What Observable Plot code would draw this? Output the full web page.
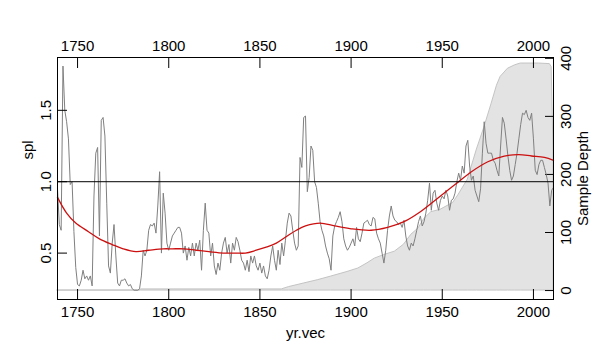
<!DOCTYPE html>
<html><head><meta charset="utf-8">
<script src="https://cdn.jsdelivr.net/npm/d3@7"></script>
<script src="https://cdn.jsdelivr.net/npm/@observablehq/plot@0.6"></script>
<style>
body{margin:0;background:#fff;}
#wrap{position:relative;width:612px;height:358px;overflow:hidden;}
#wrap svg{position:absolute;left:0;top:0;}
</style></head><body><div id="wrap"></div>
<script>
// ---- data ----
const firstYear = 1739;
const lastYear = 2011;
const splValues = [
  0.95, 0.70, 0.66, 1.81, 1.50, 1.42, 1.30, 0.98, 1.00, 0.65, 0.40,
  0.28, 0.27, 0.31, 0.38, 0.32, 0.34, 0.31, 0.34, 0.27, 0.90,
  1.20, 1.24, 0.62, 1.43, 1.45, 1.32, 0.85, 0.41, 0.36, 0.57,
  0.70, 0.48, 0.29, 0.27, 0.31, 0.31, 0.32, 0.29, 0.27, 0.28,
  0.25, 0.24, 0.24, 0.24, 0.25, 0.34, 0.52, 0.48, 0.52, 0.66,
  0.70, 0.69, 0.71, 0.64, 0.83, 1.07, 0.50, 0.92, 0.78, 0.57,
  0.52, 0.57, 0.62, 0.64, 0.66, 0.68, 0.68, 0.64, 0.50, 0.55,
  0.45, 0.54, 0.48, 0.57, 0.48, 0.57, 0.52, 0.59, 0.38, 0.66,
  0.85, 0.66, 0.64, 0.48, 0.57, 0.41, 0.35, 0.43, 0.38, 0.50,
  0.57, 0.61, 0.50, 0.56, 0.43, 0.57, 0.52, 0.61, 0.58, 0.52,
  0.45, 0.43, 0.38, 0.45, 0.37, 0.48, 0.43, 0.48, 0.41, 0.38,
  0.43, 0.36, 0.41, 0.34, 0.32, 0.38, 0.48, 0.55, 0.45, 0.38,
  0.52, 0.42, 0.57, 0.48, 0.59, 0.71, 0.78, 0.76, 0.66, 0.57,
  0.52, 0.55, 1.17, 1.10, 1.45, 1.46, 0.93, 1.03, 1.25, 1.22,
  1.00, 0.96, 0.85, 0.72, 0.66, 0.62, 0.55, 0.50, 0.46, 0.38,
  0.62, 0.69, 0.72, 0.75, 0.79, 0.72, 0.60, 0.55, 0.52, 0.54,
  0.57, 0.60, 0.55, 0.68, 0.60, 0.58, 0.64, 0.71, 0.72, 0.73,
  0.70, 0.69, 0.75, 0.74, 0.64, 0.60, 0.57, 0.50, 0.43, 0.52,
  0.66, 0.76, 0.83, 0.76, 0.73, 0.72, 0.70, 0.71, 0.68, 0.73,
  0.62, 0.55, 0.52, 0.57, 0.55, 0.60, 0.66, 0.72, 0.76, 0.69,
  0.72, 0.78, 0.87, 0.99, 0.80, 0.92, 0.94, 0.85, 0.80, 0.87,
  0.90, 0.88, 0.94, 0.90, 0.80, 0.87, 0.88, 0.92, 1.00, 1.06,
  1.01, 1.11, 1.06, 1.25, 1.29, 1.11, 1.01, 1.04, 0.94, 0.90,
  0.86, 0.95, 1.20, 1.42, 1.27, 1.20, 1.20, 1.20, 1.15, 1.13,
  1.08, 1.04, 1.25, 1.45, 1.41, 1.30, 1.18, 1.08, 1.01, 1.04,
  1.12, 1.20, 1.30, 1.40, 1.48, 1.47, 1.50, 1.45, 1.43, 1.48,
  1.30, 1.08, 1.05, 1.12, 1.15, 1.15, 1.10, 1.05, 0.99, 0.83,
  0.94, 0.96
];
const splineYears  = [1739,1744,1749,1756,1762,1769,1775,1782,1789,1797,1802,1808,1815,1822,1830,1837,1842,1848,1853,1859,1865,1870,1875,1883,1891,1900,1911,1920,1929,1938,1948,1957,1966,1975,1984,1992,1999,2006,2011];
const splineValues = [0.89,0.78,0.71,0.65,0.60,0.56,0.53,0.51,0.52,0.53,0.53,0.53,0.52,0.51,0.50,0.50,0.50,0.52,0.54,0.57,0.62,0.66,0.69,0.71,0.69,0.67,0.66,0.68,0.72,0.79,0.89,0.98,1.07,1.14,1.18,1.19,1.18,1.17,1.15];
const depthYears  = [1739,1784,1785,1862,1866,1874,1882,1889,1898,1904,1909,1913,1918,1924,1929,1933,1937,1940,1944,1949,1956,1959,1964,1969,1973,1977,1980,1982,1986,1990,1993,2003,2009,2010,2011];
const depthValues = [0,0,2,2,6,12,18,24,32,38,47,55,61,67,79,96,107,123,135,139,151,165,191,243,280,321,353,368,382,388,391,391,390,385,240];
const xTicks = [1750, 1800, 1850, 1900, 1950, 2000];
const splTicks = [0.5, 1.0, 1.5];
const depthTicks = [0, 100, 200, 300, 400];
const refLine = [1.0];
const splTitle = ["spl"];

// ---- tables ----
const splData = splValues.map((v, i) => ({year: firstYear + i, spl: v}));
const splineData = splineYears.map((y, i) => ({year: y, spl: splineValues[i]}));
const depthData = depthYears.map((y, i) => ({year: y, depth: depthValues[i]}));

const W = 612, H = 358;
const M = {marginLeft: 57, marginRight: 59, marginTop: 57, marginBottom: 59};
const FONT = "'Liberation Sans', Arial, sans-serif";
const style = {fontFamily: FONT, fontSize: "15px", background: "transparent", color: "#000", overflow: "visible"};

const depthPlot = Plot.plot({
  width: W, height: H, ...M, style,
  x: {domain: [firstYear, lastYear], axis: null},
  y: {domain: [-15.4, 401.4]},
  marks: [
    Plot.areaY(depthData, {x: "year", y: "depth", fill: "#e3e3e3", stroke: "#c4c4c4", strokeWidth: 1}),
    Plot.axisY(depthTicks, {anchor: "right", tickSize: -9, tickPadding: 26, tickRotate: -90,
      label: "Sample Depth", labelAnchor: "center", labelOffset: 34, labelArrow: "none"})
  ]
});

const splPlot = Plot.plot({
  width: W, height: H, ...M, style,
  x: {domain: [firstYear, lastYear]},
  y: {domain: [0.175, 1.87]},
  marks: [
    Plot.lineY(splData, {x: "year", y: "spl", stroke: "#808080", strokeWidth: 1}),
    Plot.line(splineData, {x: "year", y: "spl", stroke: "#cc1010", strokeWidth: 1.3, curve: "catmull-rom"}),
    Plot.ruleY(refLine, {stroke: "#000", strokeWidth: 1}),
    Plot.frame({stroke: "#000", strokeWidth: 1}),
    Plot.axisX(xTicks, {anchor: "bottom", tickSize: -10, tickPadding: 17, tickFormat: d => String(d),
      label: "yr.vec", labelAnchor: "center", labelOffset: 38, labelArrow: "none"}),
    Plot.axisX(xTicks, {anchor: "top", tickSize: -10, tickPadding: 17, tickFormat: d => String(d), label: null}),
    Plot.axisY(splTicks, {anchor: "left", tickSize: -10, tickPadding: 17, tickRotate: -90, tickFormat: d => d.toFixed(1), label: null}),
    Plot.text(splTitle, {frameAnchor: "left", text: d => d, rotate: -90, dx: -29, dy: -19, fontSize: 15})
  ]
});

const wrap = document.getElementById("wrap");
wrap.appendChild(depthPlot);
wrap.appendChild(splPlot);
</script>
</body></html>
